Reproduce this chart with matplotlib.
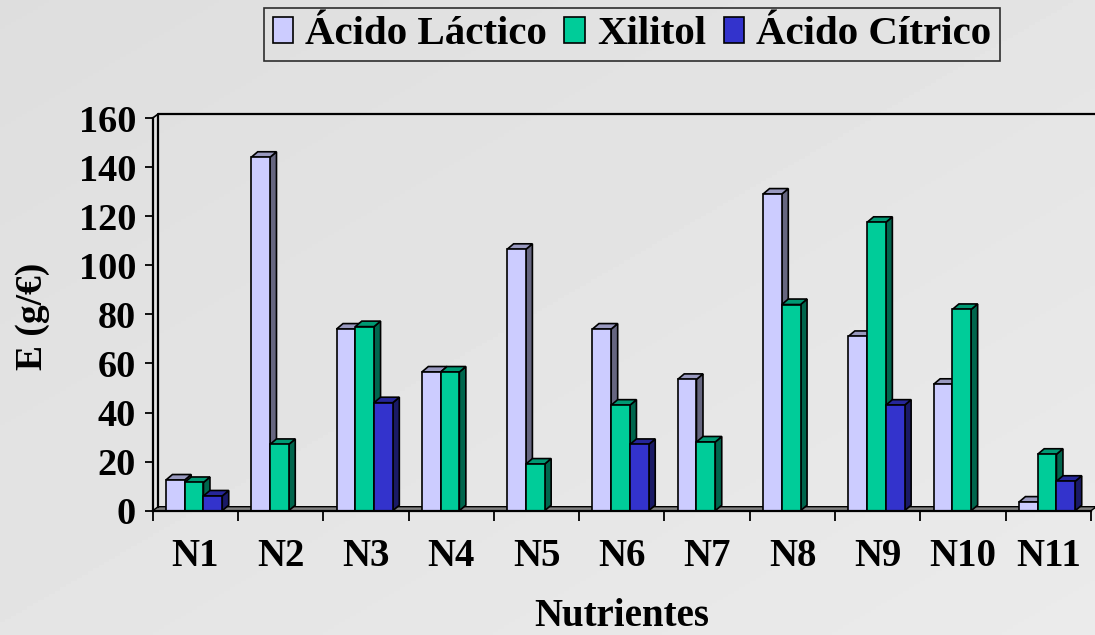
import numpy as np
import matplotlib
matplotlib.use("Agg")
import matplotlib.pyplot as plt
from matplotlib.patches import Polygon, Patch
from matplotlib.colors import to_rgb

plt.rcParams['font.family'] = ['Liberation Serif', 'DejaVu Serif']
plt.rcParams['font.weight'] = 'bold'

# data
categories = ["N1", "N2", "N3", "N4", "N5", "N6", "N7", "N8", "N9", "N10", "N11"]
lactico = [12.5, 144, 74, 56.5, 106.5, 74, 53.5, 129, 71, 51.5, 3.5]
xilitol = [11.5, 27, 75, 56.5, 19, 43, 28, 84, 117.5, 82, 23]
citrico = [6, 0, 44, 0, 0, 27, 0, 0, 43, 0, 12]
series_names = ["Ácido Láctico", "Xilitol", "Ácido Cítrico"]
colors = ["#CCCCFF", "#00CC99", "#3333CC"]

W, H = 1095, 635
fig = plt.figure(figsize=(W / 100, H / 100), dpi=100)

# background gradient
bg = fig.add_axes([0, 0, 1, 1], zorder=-10)
gx, gy = np.meshgrid(np.linspace(0, 1, 200), np.linspace(0, 1, 200))
grad = 0.87 + 0.05 * (gx + gy) / 2
bg.imshow(grad, cmap="gray", vmin=0, vmax=1, aspect="auto", extent=[0, 1, 0, 1])
bg.axis("off")

# front axis rectangle in pixels
x_left, x_right = 152.7, 1091.0
y_zero, y_top = 510.7, 118.0
ax = fig.add_axes([x_left / W, (H - y_zero) / H, (x_right - x_left) / W, (y_zero - y_top) / H])
ax.set_xlim(0, 11)
ax.set_ylim(0, 160)
ax.patch.set_visible(False)

px_x = 11 / (x_right - x_left)
px_y = 160 / (y_zero - y_top)

# wall / floor depth
wdx, wdy = 5.5 * px_x, 4 * px_y
floor = Polygon([(0, 0), (11, 0), (11 + wdx, wdy), (wdx, wdy)], closed=True,
                facecolor="#808080", edgecolor="black", lw=1.0, clip_on=False, zorder=1)
ax.add_patch(floor)
ax.plot([wdx, wdx, 11.3], [wdy, 160 + wdy, 160 + wdy], color="black", lw=1.6,
        clip_on=False, zorder=1)
ax.plot([0, wdx], [160, 160 + wdy], color="black", lw=1.2, clip_on=False, zorder=1)

# 3d-looking bars
bdx, bdy = 6.5 * px_x, 5.5 * px_y
off, w = 0.155, 0.22


def shade(c, f):
    r, g, b = to_rgb(c)
    return (r * f, g * f, b * f)


z = 2
for i in range(len(categories)):
    for j, vals in enumerate([lactico, xilitol, citrico]):
        h = vals[i]
        if h <= 0:
            continue
        x0 = i + off + j * w
        x1 = x0 + w
        c = colors[j]
        side = [(x1, 0), (x1 + bdx, bdy), (x1 + bdx, h + bdy), (x1, h)]
        top = [(x0, h), (x0 + bdx, h + bdy), (x1 + bdx, h + bdy), (x1, h)]
        front = [(x0, 0), (x1, 0), (x1, h), (x0, h)]
        for pts, fc in [(side, shade(c, 0.5)), (top, shade(c, 0.75)), (front, c)]:
            ax.add_patch(Polygon(pts, closed=True, facecolor=fc, edgecolor="black",
                                 lw=1.2, joinstyle="miter", zorder=z, clip_on=False))
        z += 1

# axes styling
for s in ["top", "right"]:
    ax.spines[s].set_visible(False)
for s in ["left", "bottom"]:
    ax.spines[s].set_linewidth(1.6)
    ax.spines[s].set_zorder(100)
ax.set_yticks(range(0, 161, 20))
ax.tick_params(axis="y", direction="out", length=6, width=1.3, pad=6, labelsize=27.5)
ax.set_xticks(np.arange(11) + 0.5)
ax.set_xticklabels(categories)
ax.set_xticks(range(12), minor=True)
ax.tick_params(axis="x", which="major", length=0, pad=20, labelsize=28)
ax.tick_params(axis="x", which="minor", direction="out", length=7, width=1.3)
for lab in ax.get_xticklabels() + ax.get_yticklabels():
    lab.set_fontweight("bold")

fig.text(33 / W, 1 - 316 / H, "E (g/€)", rotation=90, ha="center", va="center",
         fontsize=27, fontweight="bold")
fig.text(622 / W, 1 - 617 / H, "Nutrientes", ha="center", va="center",
         fontsize=28, fontweight="bold")

handles = [Patch(facecolor=c, edgecolor="black", lw=1.2) for c in colors]
leg = fig.legend(handles, series_names, loc="upper center", ncol=3,
                 bbox_to_anchor=(632 / W, 1 - 8 / H), frameon=True, fancybox=False,
                 prop={"size": 29.5, "weight": "bold"}, handlelength=0.5, handleheight=0.6,
                 handletextpad=0.3, columnspacing=0.42, borderpad=0.2, borderaxespad=0)
leg.get_frame().set_edgecolor("black")
leg.get_frame().set_linewidth(1.2)
leg.get_frame().set_facecolor("none")

fig.savefig("out.png", dpi=100)
